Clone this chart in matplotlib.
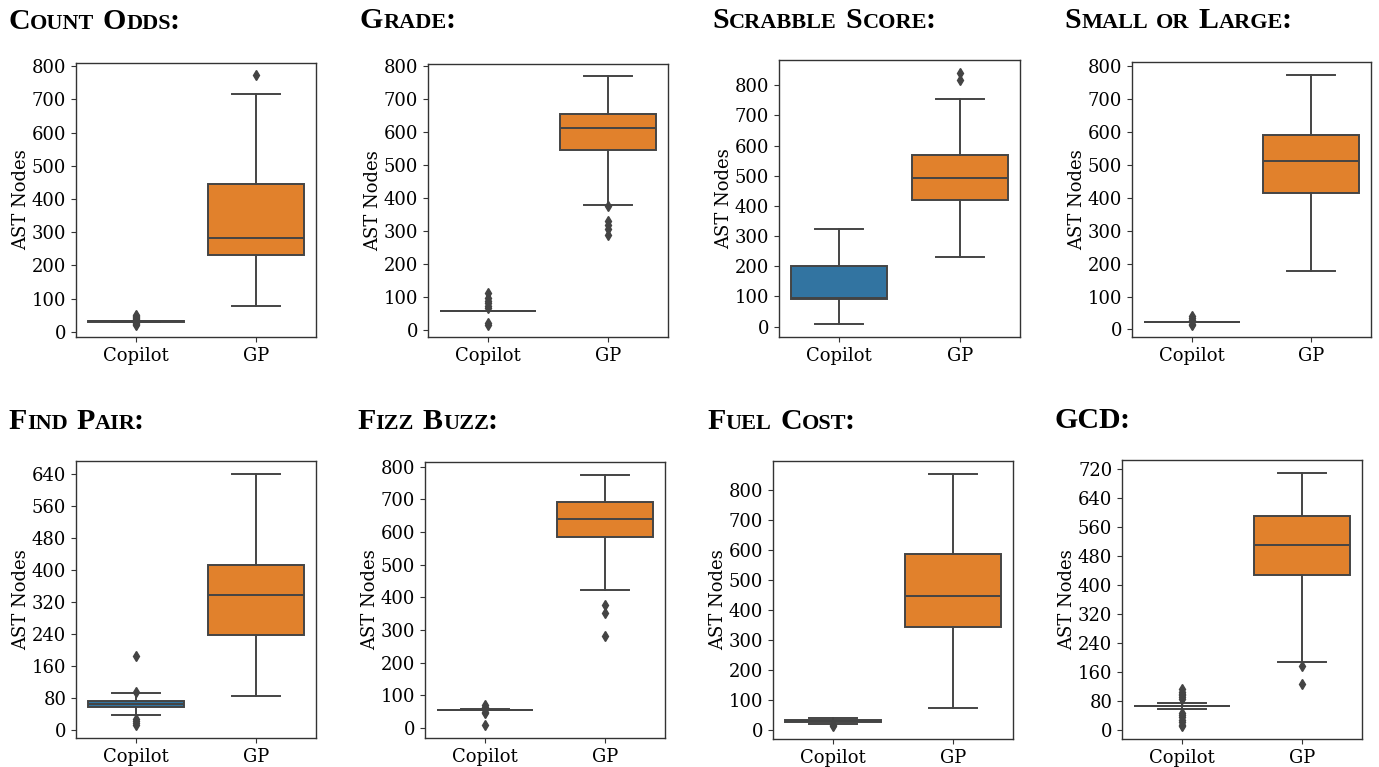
import matplotlib
matplotlib.use('Agg')
import matplotlib.pyplot as plt
from matplotlib.ticker import MultipleLocator

# data (AST node counts, box summaries)
tasks = ['Count Odds:', 'Grade:', 'Scrabble Score:', 'Small or Large:',
         'Find Pair:', 'Fizz Buzz:', 'Fuel Cost:', 'GCD:']
groups = ['Copilot', 'GP']

copilot_lo = [30, 55, 7, 22, 37, 55, 20, 58]
copilot_q1 = [31, 55, 90, 23, 58, 55, 25, 65]
copilot_med = [32, 56, 93, 23, 66, 56, 29, 66]
copilot_q3 = [33, 56, 201, 24, 72, 56, 32, 67]
copilot_hi = [34, 57, 325, 24, 93, 57, 40, 73]
copilot_fliers = [[22, 25, 28, 38, 42, 45, 48, 52],
                  [15, 20, 65, 72, 80, 88, 95, 110],
                  [],
                  [15, 18, 30, 35, 40],
                  [12, 18, 24, 28, 96, 184],
                  [8, 45, 50, 66, 72],
                  [12, 15],
                  [10, 15, 22, 28, 35, 40, 48, 85, 90, 95, 100, 105, 112]]

gp_lo = [78, 379, 231, 178, 85, 424, 74, 188]
gp_q1 = [232, 545, 418, 416, 237, 585, 345, 428]
gp_med = [284, 610, 493, 511, 337, 639, 449, 510]
gp_q3 = [445, 653, 569, 591, 412, 692, 588, 589]
gp_hi = [717, 768, 756, 775, 640, 776, 856, 709]
gp_fliers = [[772],
             [286, 306, 316, 328, 374],
             [816, 842],
             [],
             [],
             [281, 353, 378],
             [],
             [126, 177]]

ytick_step = [100, 100, 100, 100, 80, 100, 100, 80]

# axes boxes in pixels: left, right, top, bottom
axes_px = [(76, 316, 63, 337), (428, 668, 64, 337), (779, 1020, 60, 337), (1132, 1371, 62, 337),
           (76, 316, 461, 738), (425, 665, 462, 738), (773, 1013, 461, 739), (1122, 1362, 460, 739)]
title_px = [(8, 29), (360, 28), (712, 28), (1064, 28),
            (8, 429), (357, 429), (707, 429), (1055, 428)]

W, H = 1379, 767
colors = ['#3274a1', '#e1812c']
line_c = '#444444'

plt.rcParams['font.family'] = ['DejaVu Serif']

fig = plt.figure(figsize=(W / 100, H / 100), dpi=100)
renderer = fig.canvas.get_renderer()


def smallcaps(x, y, title, big=21.5, small=16):
    # fake small caps: lowercase letters drawn as smaller capitals
    runs = []
    for ch in title:
        if ch == ' ':
            runs.append((' ', None))
            continue
        size = small if ch.islower() else big
        if runs and runs[-1][1] == size and ch != ':':
            runs[-1] = (runs[-1][0] + ch.upper(), size)
        else:
            runs.append((ch.upper(), size))
    for txt, size in runs:
        if size is None:
            x += 8
            continue
        if txt == ':':
            x -= 2.5
        t = fig.text(x / W, 1 - y / H, txt, fontsize=size, fontweight='bold',
                     family='Liberation Serif', va='baseline', ha='left')
        x += t.get_window_extent(renderer).width + 0.5


for i, task in enumerate(tasks):
    l, r, t, b = axes_px[i]
    ax = fig.add_axes([l / W, 1 - b / H, (r - l) / W, (b - t) / H])
    stats = [
        dict(whislo=copilot_lo[i], q1=copilot_q1[i], med=copilot_med[i], q3=copilot_q3[i],
             whishi=copilot_hi[i], fliers=copilot_fliers[i]),
        dict(whislo=gp_lo[i], q1=gp_q1[i], med=gp_med[i], q3=gp_q3[i],
             whishi=gp_hi[i], fliers=gp_fliers[i]),
    ]
    bp = ax.bxp(stats, positions=[0, 1], widths=0.8, patch_artist=True, capwidths=0.4,
                boxprops=dict(edgecolor=line_c, linewidth=1.4),
                medianprops=dict(color=line_c, linewidth=1.4),
                whiskerprops=dict(color=line_c, linewidth=1.4),
                capprops=dict(color=line_c, linewidth=1.4),
                flierprops=dict(marker='d', markerfacecolor=line_c, markeredgecolor=line_c,
                                markersize=5, linestyle='none'))
    for patch, c in zip(bp['boxes'], colors):
        patch.set_facecolor(c)
    ax.set_xlim(-0.5, 1.5)
    ax.set_xticks([0, 1])
    ax.set_xticklabels(groups)
    ax.yaxis.set_major_locator(MultipleLocator(ytick_step[i]))
    ax.set_ylabel('AST Nodes', fontsize=13, labelpad=1)
    ax.tick_params(labelsize=13, color='#333333')
    for s in ax.spines.values():
        s.set_color('#333333')
        s.set_linewidth(1.0)
    smallcaps(title_px[i][0], title_px[i][1], task)

fig.savefig('out.png', dpi=100)
